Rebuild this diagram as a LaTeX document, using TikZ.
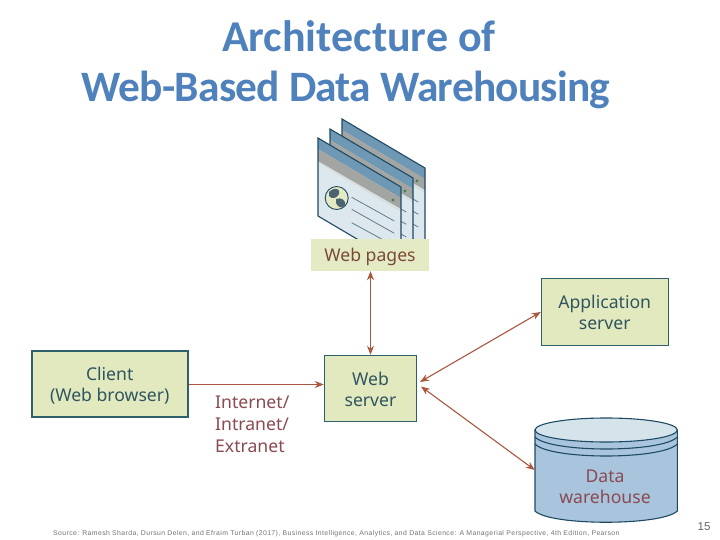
\documentclass[tikz,border=0pt]{standalone}
\usepackage{fontspec}
\setmainfont{Noto Sans}
\newfontfamily\titlefont{Carlito}
\newfontfamily\footfont{Liberation Sans}[LetterSpace=6]
\newfontfamily\numfont{Liberation Sans}
\definecolor{titleblue}{HTML}{4F81BD}
\definecolor{boxfill}{HTML}{E2E9BE}
\definecolor{labelfill}{HTML}{E4EAC4}
\definecolor{boxedge}{HTML}{2F5F6B}
\definecolor{arrowc}{HTML}{A9583F}
\definecolor{tealtxt}{HTML}{2F5560}
\definecolor{redtxt}{HTML}{8A4A50}
\definecolor{browntxt}{HTML}{7A4A35}
\definecolor{pagefill}{HTML}{DCE8EE}
\definecolor{bandblue}{HTML}{6F98B4}
\definecolor{bandgray}{HTML}{A3A5A3}
\definecolor{linec}{HTML}{5F7D8C}
\definecolor{cylbody}{HTML}{A9C5DE}
\definecolor{cyltop}{HTML}{D5E4EA}
\definecolor{cyledge}{HTML}{1F4A63}
\usetikzlibrary{arrows.meta}
\tikzset{
  box/.style={draw=boxedge,fill=boxfill,line width=1.1pt,inner sep=0pt,align=center,font=\fontsize{17.6}{21.5}\selectfont,text=tealtxt},
  link/.style={draw=arrowc,line width=1.1pt,{Stealth[length=9pt,width=7pt]}-{Stealth[length=9pt,width=7pt]}},
  oneway/.style={draw=arrowc,line width=1.1pt,-{Stealth[length=9pt,width=7pt]}},
  cyl/.style={draw=cyledge,line width=1.1pt},
  titletext/.style={font=\titlefont\bfseries\fontsize{43.4}{50}\selectfont,text=titleblue,inner sep=0pt}
}
\newcommand{\webpage}[1]{%
  \begin{scope}[shift={(#1)}]
    \fill[pagefill] (0,0) -- (83,49) -- (83,127) -- (0,78) -- cycle;
    \fill[bandblue] (0,0) -- (83,49) -- (83,60) -- (0,11) -- cycle;
    \fill[bandgray] (0,11) -- (83,60) -- (83,71) -- (0,23) -- cycle;
    \draw[white!70!gray,line width=1pt] (0,24) -- (83,73);
    \fill[green!30!gray!80!black] (75,62) circle (1.6);
    \draw[linec,line width=0.8pt] (33.7,59.3) -- (76.3,83) (33.7,71.3) -- (76.3,95.3) (33.7,84.7) -- (76.3,108);
    \draw[cyledge,line width=1.1pt] (83,127) -- (83,49) -- (0,0) -- (0,78) -- (83,127);
  \end{scope}}
\begin{document}
\begin{tikzpicture}[x=1pt,y=-1pt]
\useasboundingbox (0,0) rectangle (720,540);
\fill[white] (0,0) rectangle (720,540);
\node[titletext,font=\titlefont\bfseries\fontsize{44}{50}\selectfont] (title1) at (359,36) {Architecture of};
\node[titletext] (title2) at (346,90) {\addfontfeature{LetterSpace=-1.8}Web-Based Data Warehousing};
% pages
\webpage{342,119}
\webpage{330,129}
\webpage{318,138}
\fill[labelfill,draw=cyledge,line width=0.9pt] (336.7,198) circle (11.5);
\fill[linec!80!black] (329,192) .. controls (335,186) and (341,189) .. (339,194) .. controls (337,198) and (332,200) .. (329,196) -- cycle;
\fill[linec!80!black] (336,199) .. controls (341,197) and (346,200) .. (345,205) .. controls (343,209) and (338,208) .. (336,203) -- cycle;
\node[fill=labelfill,minimum width=118pt,minimum height=32pt,inner sep=0pt,font=\fontsize{17.6}{20}\selectfont,text=browntxt] (pages) at (370,255) {\rule{0pt}{18pt}Web pages};
% boxes
\node[box,line width=1.6pt,minimum width=156pt,minimum height=66.5pt] (client) at (109.7,384) {\rule{0pt}{17pt}Client\\(Web browser)};
\node[box,minimum width=92.4pt,minimum height=66.4pt] (web) at (370.5,388.5) {\rule{0pt}{15pt}Web\\server};
\node[box,minimum width=126.7pt,minimum height=66.3pt] (app) at (604.7,312) {\rule{0pt}{14pt}Application\\server};
% cylinder
\path[cyl,fill=cylbody] (535,430) -- (535,511) .. controls (550,526) and (662,526) .. (677.3,511) -- (677.3,430) -- cycle;
\draw[cyl] (535,437) .. controls (550,453) and (662,453) .. (677.3,437);
\draw[cyl] (535,444) .. controls (550,460) and (662,460) .. (677.3,444);
\path[cyl,fill=cyltop] (606.15,430) ellipse[x radius=71.15,y radius=12];
\node[inner sep=0pt,minimum width=142.3pt,minimum height=104pt] (dw) at (606.15,470) {};
\node[align=center,font=\fontsize{17.6}{21.5}\selectfont,text=redtxt] (dwlabel) at (605,487) {Data\\warehouse};
% connector end points beside the web server
\coordinate (webA) at (420,382);
\coordinate (webB) at (421,386.5);
\draw[oneway] (client.east |- 0,384.5) -- (web.west |- 0,384.5);
\draw[link] (pages.south -| web.north) -- (web.north);
\draw[link] (webA) -- (app.west);
\draw[link] (webB) -- (dw.west);
\node[align=left,anchor=north west,inner sep=0pt,font=\fontsize{17.6}{22}\selectfont,text=redtxt] (net) at (215,396) {Internet/\\Intranet/\\Extranet};
% footer
\node[anchor=west,inner sep=0pt,font=\footfont\fontsize{6.85}{9}\selectfont,text=black!55] (src) at (53,534) {Source: Ramesh Sharda, Dursun Delen, and Efraim Turban (2017), Business Intelligence, Analytics, and Data Science: A Managerial Perspective, 4th Edition, Pearson};
\node[font=\numfont\fontsize{11.5}{13}\selectfont,text=black!60] (num) at (704,527) {15};
\end{tikzpicture}
\end{document}
